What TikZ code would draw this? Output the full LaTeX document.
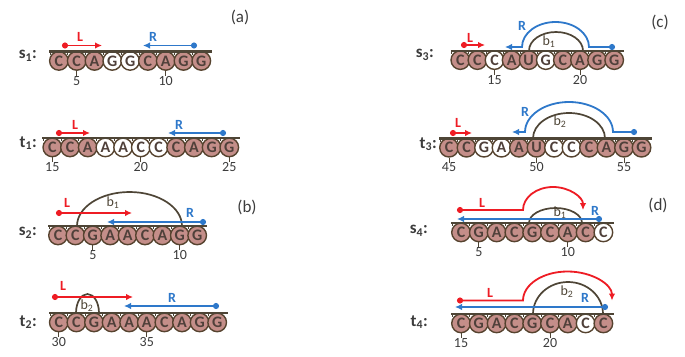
\documentclass[tikz,border=0pt]{standalone}
\usepackage{fontspec}
\setmainfont{Carlito}
\usetikzlibrary{arrows.meta}

\definecolor{nucpink}{HTML}{C48E89}
\definecolor{nucedge}{HTML}{56432F}
\definecolor{nuctext}{HTML}{4F403A}
\definecolor{barcol}{HTML}{4E4536}
\definecolor{lred}{HTML}{EE1C24}
\definecolor{rblue}{HTML}{2E78CA}
\definecolor{inkgray}{HTML}{3C3C3C}

\tikzset{
  x=1pt, y=-1pt,
  nuc/.style={circle, draw=nucedge, line width=1.4pt, minimum size=18.6pt,
    inner sep=0pt, text=nuctext, font=\bfseries\fontsize{16}{16}\selectfont},
  backbone/.style={draw=barcol, line width=2.4pt},
  stem/.style={draw=barcol, line width=0.9pt},
  bond/.style={draw=barcol, line width=1.7pt},
  larrow/.style={draw=lred, line width=1.8pt,
    {Circle[length=6pt]}-{Latex[length=7pt,width=6.5pt]}},
  rarrow/.style={draw=rblue, line width=1.8pt,
    {Circle[length=6pt]}-{Latex[length=7pt,width=6.5pt]}},
  lbl/.style={font=\bfseries\fontsize{14}{14}\selectfont, inner sep=0pt},
  blbl/.style={font=\fontsize{14}{14}\selectfont, text=barcol, inner sep=0pt},
  num/.style={font=\fontsize{14}{14}\selectfont, text=inkgray, inner sep=0pt},
  rowlbl/.style={font=\bfseries\fontsize{17}{17}\selectfont, text=inkgray,
    anchor=east, inner sep=0pt},
  panel/.style={font=\fontsize{17}{17}\selectfont, text=inkgray, inner sep=0pt},
}

% one strand: name, x of first centre, bar y, pitch, letter/fill list, count
\newcommand\strandrow[6]{%
  \foreach \ch/\fl [count=\i] in {#5}{%
    \node[nuc, fill=\fl] (#1-\i) at ({#2+(\i-1)*#4}, #3+9.4) {\ch};
  }
  \foreach \i in {1,...,#6}{%
    \draw[stem] ({#2+(\i-1.5)*#4}, #3) -- ++(0,3.2);
  }
  \coordinate (#1-bl) at ({#2-#4/2-1}, #3);
  \coordinate (#1-br) at ({#2+(#6-0.5)*#4+1.5}, #3);
  \draw[backbone] (#1-bl) -- (#1-br);
}
% position number under a nucleotide: strand, index, number
\newcommand\posmark[3]{%
  \node[num, anchor=north] (#1-n#3) at ([yshift=-5pt]#1-#2.south) {#3};
  \draw[stem] (#1-#2.south) -- (#1-n#3.north);
}

\begin{document}
\begin{tikzpicture}
\fill[white] (0,0) rectangle (685,356);
\useasboundingbox (0,0) rectangle (685,356);

% ---------------- (a) ----------------
\node[panel] (pa) at (240,17) {(a)};
\strandrow{s1}{58.9}{51.5}{17.8}{C/nucpink,C/nucpink,A/nucpink,G/white,G/white,C/nucpink,A/nucpink,G/nucpink,G/nucpink}{9}
\posmark{s1}{2}{5}
\posmark{s1}{7}{10}
\node[rowlbl] (s1-name) at (37,56) {s\textsubscript{1}:};
\coordinate (s1-Ld) at (62,45.5); \coordinate (s1-Lt) at (102,45.5);
\draw[larrow] (s1-Ld) -- (s1-Lt);
\node[lbl, text=lred] (s1-L) at (80,37) {L};
\coordinate (s1-Rd) at (197,45.5); \coordinate (s1-Rt) at (143,45.5);
\draw[rarrow] (s1-Rd) -- (s1-Rt);
\node[lbl, text=rblue] (s1-R) at (153,37) {R};

\strandrow{t1}{52.3}{138}{17.7}{C/nucpink,C/nucpink,A/nucpink,A/white,A/white,C/white,C/white,C/nucpink,A/nucpink,G/nucpink,G/nucpink}{11}
\posmark{t1}{1}{15}
\posmark{t1}{6}{20}
\posmark{t1}{11}{25}
\node[rowlbl] (t1-name) at (37,143) {t\textsubscript{1}:};
\coordinate (t1-Ld) at (56,133); \coordinate (t1-Lt) at (90,133);
\draw[larrow] (t1-Ld) -- (t1-Lt);
\node[lbl, text=lred] (t1-L) at (75,125) {L};
\coordinate (t1-Rd) at (226,133); \coordinate (t1-Rt) at (168,133);
\draw[rarrow] (t1-Rd) -- (t1-Rt);
\node[lbl, text=rblue] (t1-R) at (179,125) {R};

% ---------------- (b) ----------------
\node[panel] (pb) at (247,207) {(b)};
\strandrow{s2}{58}{226}{17.4}{C/nucpink,C/nucpink,G/nucpink,A/nucpink,A/nucpink,C/nucpink,A/nucpink,G/nucpink,G/nucpink}{9}
\posmark{s2}{3}{5}
\posmark{s2}{8}{10}
\node[rowlbl] (s2-name) at (37,233) {s\textsubscript{2}:};
\coordinate (s2-ba) at (77,226);
\draw[bond] (s2-ba) arc[start angle=180, end angle=0, x radius=52.5pt, y radius=34pt];
\node[blbl] (s2-b) at (113,203) {b\textsubscript{1}};
\coordinate (s2-Ld) at (56,213); \coordinate (s2-Lt) at (132,213);
\draw[larrow] (s2-Ld) -- (s2-Lt);
\node[lbl, text=lred] (s2-L) at (67,203) {L};
\coordinate (s2-Rd) at (206,222); \coordinate (s2-Rt) at (107,222);
\draw[rarrow] (s2-Rd) -- (s2-Rt);
\node[lbl, text=rblue] (s2-R) at (190,213) {R};

\strandrow{t2}{58.8}{313}{17.6}{C/nucpink,C/nucpink,G/nucpink,A/nucpink,A/nucpink,A/nucpink,C/nucpink,A/nucpink,G/nucpink,G/nucpink}{10}
\posmark{t2}{1}{30}
\posmark{t2}{6}{35}
\node[rowlbl] (t2-name) at (37,322) {t\textsubscript{2}:};
\coordinate (t2-ba) at (76,313);
\draw[bond] (t2-ba) arc[start angle=180, end angle=0, x radius=11.5pt, y radius=19pt];
\node[blbl] (t2-b) at (87,306) {b\textsubscript{2}};
\coordinate (t2-Ld) at (52,297); \coordinate (t2-Lt) at (133,297);
\draw[larrow] (t2-Ld) -- (t2-Lt);
\node[lbl, text=lred] (t2-L) at (63,286) {L};
\coordinate (t2-Rd) at (219,306); \coordinate (t2-Rt) at (124,306);
\draw[rarrow] (t2-Rd) -- (t2-Rt);
\node[lbl, text=rblue] (t2-R) at (172,298) {R};

% ---------------- (c) ----------------
\node[panel] (pc) at (660,22) {(c)};
\strandrow{s3}{460.3}{50.7}{17.1}{C/nucpink,C/nucpink,C/white,A/nucpink,U/nucpink,G/white,C/nucpink,A/nucpink,G/nucpink,G/nucpink}{10}
\posmark{s3}{3}{15}
\posmark{s3}{8}{20}
\node[rowlbl] (s3-name) at (434,55) {s\textsubscript{3}:};
\coordinate (s3-ba) at (529,50.7);
\draw[bond] (s3-ba) arc[start angle=180, end angle=0, x radius=27pt, y radius=18.7pt];
\node[blbl] (s3-b) at (549,42) {b\textsubscript{1}};
\coordinate (s3-Ld) at (461,45); \coordinate (s3-Lt) at (485,45);
\draw[larrow] (s3-Ld) -- (s3-Lt);
\node[lbl, text=lred] (s3-L) at (470,38) {L};
\coordinate (s3-Rd) at (615,47); \coordinate (s3-Rt) at (505,47);
\draw[rarrow] (s3-Rd) -- (589,47) arc[start angle=0, end angle=180, x radius=33.5pt, y radius=25pt] -- (s3-Rt);
\node[lbl, text=rblue] (s3-R) at (522,26) {R};

\strandrow{t3}{449}{138.3}{17.5}{C/nucpink,C/nucpink,G/white,A/white,A/nucpink,U/nucpink,C/white,C/white,C/nucpink,A/nucpink,G/nucpink,G/nucpink}{12}
\posmark{t3}{1}{45}
\posmark{t3}{6}{50}
\posmark{t3}{11}{55}
\node[rowlbl] (t3-name) at (437,144) {t\textsubscript{3}:};
\coordinate (t3-ba) at (533,138.3);
\draw[bond] (t3-ba) arc[start angle=180, end angle=0, x radius=36pt, y radius=25.3pt];
\node[blbl] (t3-b) at (560,122) {b\textsubscript{2}};
\coordinate (t3-Ld) at (450,133); \coordinate (t3-Lt) at (472,133);
\draw[larrow] (t3-Ld) -- (t3-Lt);
\node[lbl, text=lred] (t3-L) at (458,123) {L};
\coordinate (t3-Rd) at (637,132); \coordinate (t3-Rt) at (512,132);
\draw[rarrow] (t3-Rd) -- (613,132) arc[start angle=0, end angle=180, x radius=44pt, y radius=30pt] -- (t3-Rt);
\node[lbl, text=rblue] (t3-R) at (525,112) {R};

% ---------------- (d) ----------------
\node[panel] (pd) at (658,205) {(d)};
\strandrow{s4}{461}{223}{17.8}{C/nucpink,G/nucpink,A/nucpink,C/nucpink,G/nucpink,C/nucpink,A/nucpink,C/nucpink,C/white}{9}
\posmark{s4}{2}{5}
\posmark{s4}{7}{10}
\node[rowlbl] (s4-name) at (428,231) {s\textsubscript{4}:};
\coordinate (s4-ba) at (529,223);
\draw[bond] (s4-ba) arc[start angle=180, end angle=0, x radius=26.5pt, y radius=15pt];
\node[blbl] (s4-b) at (560,213) {b\textsubscript{1}};
\coordinate (s4-Rd) at (602,219); \coordinate (s4-Rt) at (457,219);
\draw[rarrow] (s4-Rd) -- (s4-Rt);
\node[lbl, text=rblue] (s4-R) at (595,211) {R};
\coordinate (s4-Ld) at (457,210);
\draw[larrow] (s4-Ld) -- (523,210) arc[start angle=180, end angle=0, x radius=30pt, y radius=23pt];
\node[lbl, text=lred] (s4-L) at (482,203) {L};

\strandrow{t4}{461}{314}{17.8}{C/nucpink,G/nucpink,A/nucpink,C/nucpink,G/nucpink,C/nucpink,A/nucpink,C/white,C/nucpink}{9}
\posmark{t4}{1}{15}
\posmark{t4}{6}{20}
\node[rowlbl] (t4-name) at (428,322) {t\textsubscript{4}:};
\coordinate (t4-ba) at (533,314);
\draw[bond] (t4-ba) arc[start angle=180, end angle=0, x radius=35pt, y radius=32pt];
\node[blbl] (t4-b) at (567,292) {b\textsubscript{2}};
\coordinate (t4-Rd) at (608,307); \coordinate (t4-Rt) at (455,307);
\draw[rarrow] (t4-Rd) -- (t4-Rt);
\node[lbl, text=rblue] (t4-R) at (585,298) {R};
\coordinate (t4-Ld) at (457,300.5);
\draw[larrow] (t4-Ld) -- (523,300.5) arc[start angle=180, end angle=0, x radius=44.5pt, y radius=29pt];
\node[lbl, text=lred] (t4-L) at (490,293) {L};
\end{tikzpicture}
\end{document}
